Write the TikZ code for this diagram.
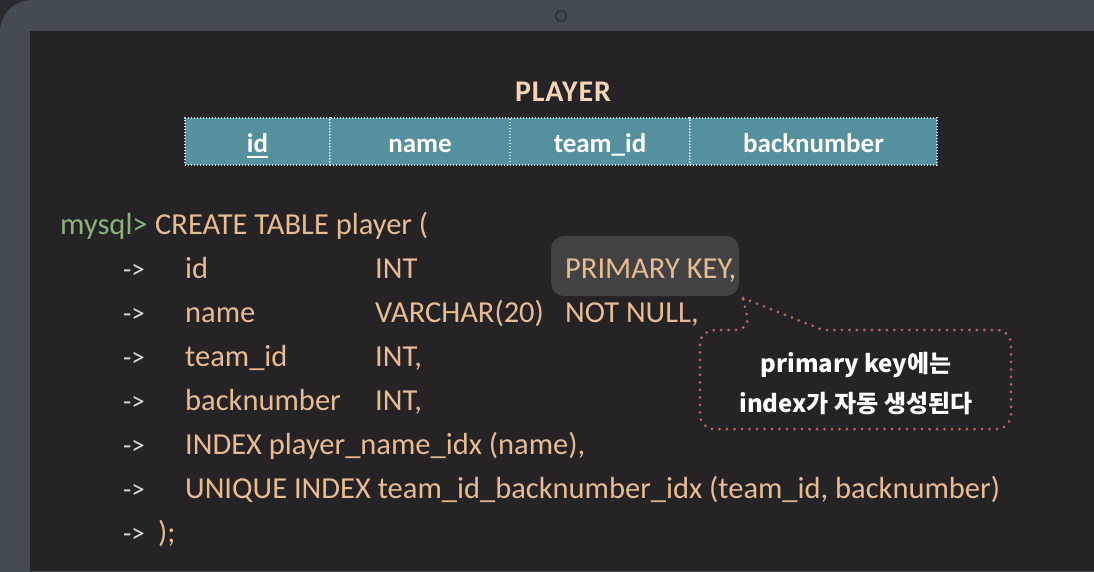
\documentclass[tikz,border=0pt]{standalone}
\usepackage{fontspec}
\setmainfont{Carlito}
\newfontfamily\kr{Noto Sans CJK KR}
\definecolor{outerbg}{HTML}{2B2A2D}
\definecolor{framec}{HTML}{454B53}
\definecolor{screenc}{HTML}{252326}
\definecolor{camc}{HTML}{2F3339}
\definecolor{codec}{HTML}{E8BC90}
\definecolor{promptc}{HTML}{8AB57A}
\definecolor{arrowc}{HTML}{D8D8D8}
\definecolor{titlec}{HTML}{F5D5B5}
\definecolor{tablec}{HTML}{55909F}
\definecolor{tabledot}{HTML}{C9DCE0}
\definecolor{hlc}{HTML}{424244}
\definecolor{calloutc}{HTML}{C0665C}
\tikzset{
  code/.style={anchor=base west, inner sep=0pt, text=codec, font=\fontsize{30.5}{36}\selectfont},
  prompt/.style={code, text=promptc},
  arr/.style={anchor=base west, inner sep=0pt, text=arrowc, font=\fontsize{27}{32}\selectfont},
  cell/.style={fill=tablec, draw=tabledot, line width=1.3pt, dash pattern=on 1.3pt off 1.7pt,
               minimum height=47pt, inner sep=0pt},
  celltext/.style={anchor=base, inner sep=0pt, text=white, font=\fontsize{27}{32}\selectfont\bfseries},
  hlbox/.style={fill=hlc, rounded corners=13pt, minimum width=188pt, minimum height=60pt, inner sep=0pt},
  callout/.style={draw=calloutc, line width=3pt, dash pattern=on 0pt off 7.5pt, line cap=round},
  notetext/.style={align=center, text=white, inner sep=0pt, font=\kr\bfseries\fontsize{24}{40}\selectfont}
}
\begin{document}
\begin{tikzpicture}[x=1pt,y=-1pt]
\useasboundingbox (0,0) rectangle (1094,571);
\clip (0,0) rectangle (1094,571);
\fill[outerbg] (0,0) rectangle (1094,571);
\fill[framec, rounded corners=32pt] (0,0) rectangle (1200,700);
\fill[screenc] (30,31) rectangle (1094,571);
\draw[camc, line width=1.6pt] (561,16) circle (5.5);

% title and table
\node[anchor=base, inner sep=0pt, text=titlec, font=\fontsize{30}{34}\selectfont\bfseries\addfontfeature{LetterSpace=3}] (title) at (563,101) {PLAYER};
\node[cell, minimum width=145pt] (c1) at (257.5,141.5) {};
\node[cell, minimum width=180pt] (c2) at (420,141.5) {};
\node[cell, minimum width=180pt] (c3) at (600,141.5) {};
\node[cell, minimum width=247pt] (c4) at (813.5,141.5) {};
\node[celltext] (t1) at (257.5,152) {id};
\draw[white, line width=1.8pt] (t1.base west) ++(0,5) coordinate (u1) -- (t1.base east |- u1);
\node[celltext] (t2) at (420,152) {name};
\node[celltext] (t3) at (600,152) {team\_id};
\node[celltext] (t4) at (813.5,152) {backnumber};

% highlight box
\node[hlbox] (pkbox) at (645,266) {};

% code
\node[prompt] (p0) at (60,234) {mysql>};
\node[code] (l0) at (155,234) {CREATE TABLE player (};

\node[arr] (a1) at (123,278) {->};
\node[code] (n1) at (185,278) {id};
\node[code] (y1) at (375,278) {INT};
\node[code] (k1) at (565,278) {PRIMARY KEY,};

\node[arr] (a2) at (123,322) {->};
\node[code] (n2) at (185,322) {name};
\node[code] (y2) at (375,322) {VARCHAR(20)};
\node[code] (k2) at (565,322) {NOT NULL,};

\node[arr] (a3) at (123,366) {->};
\node[code] (n3) at (185,366) {team\_id};
\node[code] (y3) at (375,366) {INT,};

\node[arr] (a4) at (123,410) {->};
\node[code] (n4) at (185,410) {backnumber};
\node[code] (y4) at (375,410) {INT,};

\node[arr] (a5) at (123,454) {->};
\node[code] (n5) at (185,454) {INDEX player\_name\_idx (name),};

\node[arr] (a6) at (123,498) {->};
\node[code] (n6) at (185,498) {UNIQUE INDEX team\_id\_backnumber\_idx (team\_id, backnumber)};

\node[arr] (a7) at (123,542) {->};
\node[code] (n7) at (158,542) {);};

% callout
\draw[callout] (743,298) -- (823,330) [rounded corners=14pt] -- (1011,330) -- (1011,429) -- (700,429) -- (700,330) -- (750,330) [sharp corners] -- (743,298);
\node[notetext] (note) at (856,384) {primary key에는\\index가 자동 생성된다};
\end{tikzpicture}
\end{document}
